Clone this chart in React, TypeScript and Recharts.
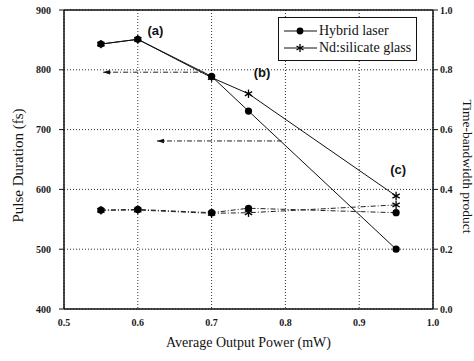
import React from 'react';
import { LineChart, Line, XAxis, YAxis, CartesianGrid, ReferenceLine, ReferenceDot, Legend } from 'recharts';

const power = [0.55, 0.6, 0.7, 0.75, 0.95];
const hybridPulse = [843, 851, 789, 731, 500];
const ndPulse = [843, 851, 787, 760, 589];
const hybridTbp = [0.331, 0.333, 0.322, 0.337, 0.322];
const ndTbp = [0.33, 0.331, 0.32, 0.322, 0.348];

const seriesNames = ['Hybrid laser', 'Nd:silicate glass'];

const xTicks = [0.5, 0.6, 0.7, 0.8, 0.9, 1.0];
const xMinorTicks = [0.55, 0.65, 0.75, 0.85, 0.95];
const xTopTicks = [0.55, 0.6, 0.65, 0.7, 0.75, 0.8, 0.85, 0.9, 0.95];
const leftTicks = [400, 500, 600, 700, 800, 900];
const leftMinorTicks = [450, 550, 650, 750, 850];
const rightTicks = [0, 0.2, 0.4, 0.6, 0.8, 1.0];
const rightMinorTicks = [0.1, 0.3, 0.5, 0.7, 0.9];

const annotations = [
  { label: '(a)', x: 0.613, y: 865 },
  { label: '(b)', x: 0.757, y: 795 },
  { label: '(c)', x: 0.942, y: 634 },
];
const arrows = [
  { x1: 0.553, x2: 0.69, y: 796 },
  { x1: 0.626, x2: 0.795, y: 681 },
];

const data = power.map((p, i) => ({
  p,
  hp: hybridPulse[i],
  np: ndPulse[i],
  ht: hybridTbp[i],
  nt: ndTbp[i],
}));

const SERIF = '"Liberation Serif", "Times New Roman", serif';
const SANS = '"Liberation Sans", Arial, sans-serif';

const CircleDot = (props: any) => {
  const { cx, cy, key } = props;
  if (cx == null || cy == null) return <g key={key} />;
  return <circle key={key} cx={cx} cy={cy} r={3.6} fill="#000" />;
};

const StarShape = ({ cx, cy, s = 4.2 }: { cx: number; cy: number; s?: number }) => {
  const d = s * 0.87;
  const h = s * 0.5;
  return (
    <g stroke="#000" strokeWidth={1.3}>
      <line x1={cx} y1={cy - s} x2={cx} y2={cy + s} />
      <line x1={cx - d} y1={cy - h} x2={cx + d} y2={cy + h} />
      <line x1={cx - d} y1={cy + h} x2={cx + d} y2={cy - h} />
    </g>
  );
};

const StarDot = (props: any) => {
  const { cx, cy, key } = props;
  if (cx == null || cy == null) return <g key={key} />;
  return (
    <g key={key}>
      <StarShape cx={cx} cy={cy} />
    </g>
  );
};

const tickStyle = { fontFamily: SERIF, fontSize: 10, fontWeight: 700, fill: '#1a1a1a' };

const LegendBox = () => (
  <div
    style={{
      width: 139,
      height: 44,
      background: '#fff',
      border: '1px solid #111',
      boxSizing: 'border-box',
      fontFamily: SERIF,
      fontSize: 14,
      color: '#111',
      position: 'relative',
    }}
  >
    {seriesNames.map((name, i) => (
      <div
        key={name}
        style={{ position: 'absolute', left: 5, top: 4 + i * 17, height: 17, display: 'flex', alignItems: 'center', whiteSpace: 'nowrap' }}
      >
        <svg width={33} height={12} style={{ marginRight: 2 }}>
          <line x1={0} y1={6} x2={33} y2={6} stroke="#111" strokeWidth={1} />
          {i === 0 ? <circle cx={16} cy={6} r={3.4} fill="#000" /> : <StarShape cx={16} cy={6} s={4} />}
        </svg>
        <span>{name}</span>
      </div>
    ))}
  </div>
);

export default function App() {
  return (
    <div style={{ position: 'absolute', left: 0, top: 0, width: 474, height: 361, background: '#fff' }}>
      <LineChart width={474} height={361} data={data} margin={{ top: 10, right: 0, bottom: 0, left: 0 }}>
        <CartesianGrid
          xAxisId="x"
          yAxisId="l"
          stroke="#333"
          strokeDasharray="1 2"
          strokeWidth={1}
        />
        <XAxis
          xAxisId="x"
          dataKey="p"
          type="number"
          domain={[0.5, 1.0]}
          ticks={xTicks}
          interval={0}
          height={52}
          tickFormatter={(v: number) => v.toFixed(1)}
          tick={tickStyle}
          tickLine={false}
          tickSize={8}
          axisLine={{ stroke: '#111', strokeWidth: 1.5 }}
          label={{
            content: (props: any) => {
              const vb = props.viewBox || {};
              return (
                <text
                  x={vb.x + vb.width / 2}
                  y={vb.y + 38}
                  textAnchor="middle"
                  fontFamily={SERIF}
                  fontSize={14}
                  fill="#111"
                >
                  Average Output Power (mW)
                </text>
              );
            },
          }}
        />
        <XAxis
          xAxisId="xminor"
          dataKey="p"
          type="number"
          domain={[0.5, 1.0]}
          ticks={xMinorTicks}
          interval={0}
          mirror
          tick={false}
          tickSize={4}
          axisLine={false}
          tickLine={{ stroke: '#111' }}
        />
        <XAxis
          xAxisId="top"
          orientation="top"
          dataKey="p"
          type="number"
          domain={[0.5, 1.0]}
          ticks={xTopTicks}
          interval={0}
          mirror
          tick={false}
          tickSize={4}
          axisLine={{ stroke: '#111', strokeWidth: 1.5 }}
          tickLine={{ stroke: '#111' }}
        />
        <YAxis
          yAxisId="l"
          type="number"
          domain={[400, 900]}
          ticks={leftTicks}
          interval={0}
          width={64}
          tick={tickStyle}
          tickSize={5}
          tickMargin={8}
          tickLine={{ stroke: '#111' }}
          axisLine={{ stroke: '#111', strokeWidth: 1.5 }}
          label={{
            content: (props: any) => {
              const vb = props.viewBox || {};
              const cx = vb.x + 18;
              const cy = vb.y + vb.height / 2 + 6;
              return (
                <text
                  x={cx}
                  y={cy}
                  transform={`rotate(-90 ${cx} ${cy})`}
                  textAnchor="middle"
                  dominantBaseline="central"
                  fontFamily={SERIF}
                  fontSize={15}
                  fill="#111"
                >
                  Pulse Duration (fs)
                </text>
              );
            },
          }}
        />
        <YAxis
          yAxisId="lminor"
          type="number"
          domain={[400, 900]}
          ticks={leftMinorTicks}
          interval={0}
          mirror
          tick={false}
          tickSize={4}
          axisLine={false}
          tickLine={{ stroke: '#111' }}
        />
        <YAxis
          yAxisId="r"
          orientation="right"
          type="number"
          domain={[0, 1]}
          ticks={rightTicks}
          interval={0}
          width={41}
          tick={{ ...tickStyle, textAnchor: 'start' }}
          tickFormatter={(v: number) => v.toFixed(1)}
          tickSize={5}
          tickMargin={2}
          tickLine={{ stroke: '#111' }}
          axisLine={{ stroke: '#111', strokeWidth: 1.5 }}
          label={{
            content: (props: any) => {
              const vb = props.viewBox || {};
              const cx = vb.x + 34;
              const cy = vb.y + vb.height / 2 + 7;
              return (
                <text
                  x={cx}
                  y={cy}
                  transform={`rotate(90 ${cx} ${cy})`}
                  textAnchor="middle"
                  dominantBaseline="central"
                  fontFamily={SERIF}
                  fontSize={13.5}
                  fill="#111"
                >
                  Time-bandwidth product
                </text>
              );
            },
          }}
        />
        <YAxis
          yAxisId="rminor"
          orientation="right"
          type="number"
          domain={[0, 1]}
          ticks={rightMinorTicks}
          interval={0}
          mirror
          tick={false}
          tickSize={4}
          axisLine={false}
          tickLine={{ stroke: '#111' }}
        />

        {arrows.map((a, i) => (
          <ReferenceLine
            key={`al${i}`}
            xAxisId="x"
            yAxisId="l"
            segment={[{ x: a.x1, y: a.y }, { x: a.x2, y: a.y }]}
            stroke="#222"
            strokeDasharray="5 2 1 2"
            strokeWidth={1}
          />
        ))}
        {arrows.map((a, i) => (
          <ReferenceDot
            key={`ah${i}`}
            xAxisId="x"
            yAxisId="l"
            x={a.x1}
            y={a.y}
            r={3}
            shape={(p: any) => (
              <polygon
                points={`${p.cx},${p.cy} ${p.cx + 7},${p.cy - 2.2} ${p.cx + 7},${p.cy + 2.2}`}
                fill="#111"
              />
            )}
          />
        ))}

        <Line
          xAxisId="x"
          yAxisId="r"
          dataKey="ht"
          stroke="#222"
          strokeWidth={1}
          strokeDasharray="5 2 1 2"
          dot={CircleDot}
          isAnimationActive={false}
          legendType="none"
        />
        <Line
          xAxisId="x"
          yAxisId="r"
          dataKey="nt"
          stroke="#222"
          strokeWidth={1}
          strokeDasharray="5 2 1 2"
          dot={StarDot}
          isAnimationActive={false}
          legendType="none"
        />
        <Line
          xAxisId="x"
          yAxisId="l"
          dataKey="hp"
          name={seriesNames[0]}
          stroke="#111"
          strokeWidth={1}
          dot={CircleDot}
          isAnimationActive={false}
        />
        <Line
          xAxisId="x"
          yAxisId="l"
          dataKey="np"
          name={seriesNames[1]}
          stroke="#111"
          strokeWidth={1}
          dot={StarDot}
          isAnimationActive={false}
        />

        {annotations.map((a) => (
          <ReferenceDot
            key={a.label}
            xAxisId="x"
            yAxisId="l"
            x={a.x}
            y={a.y}
            r={1}
            shape={(p: any) => (
              <text
                x={p.cx}
                y={p.cy}
                dominantBaseline="central"
                fontFamily={SANS}
                fontSize={13}
                fontWeight={700}
                fill="#111"
              >
                {a.label}
              </text>
            )}
          />
        ))}

        <Legend
          layout="vertical"
          align="center"
          verticalAlign="middle"
          wrapperStyle={{ left: 278, top: 17, width: 139, height: 44 }}
          content={() => <LegendBox />}
        />
      </LineChart>
    </div>
  );
}
